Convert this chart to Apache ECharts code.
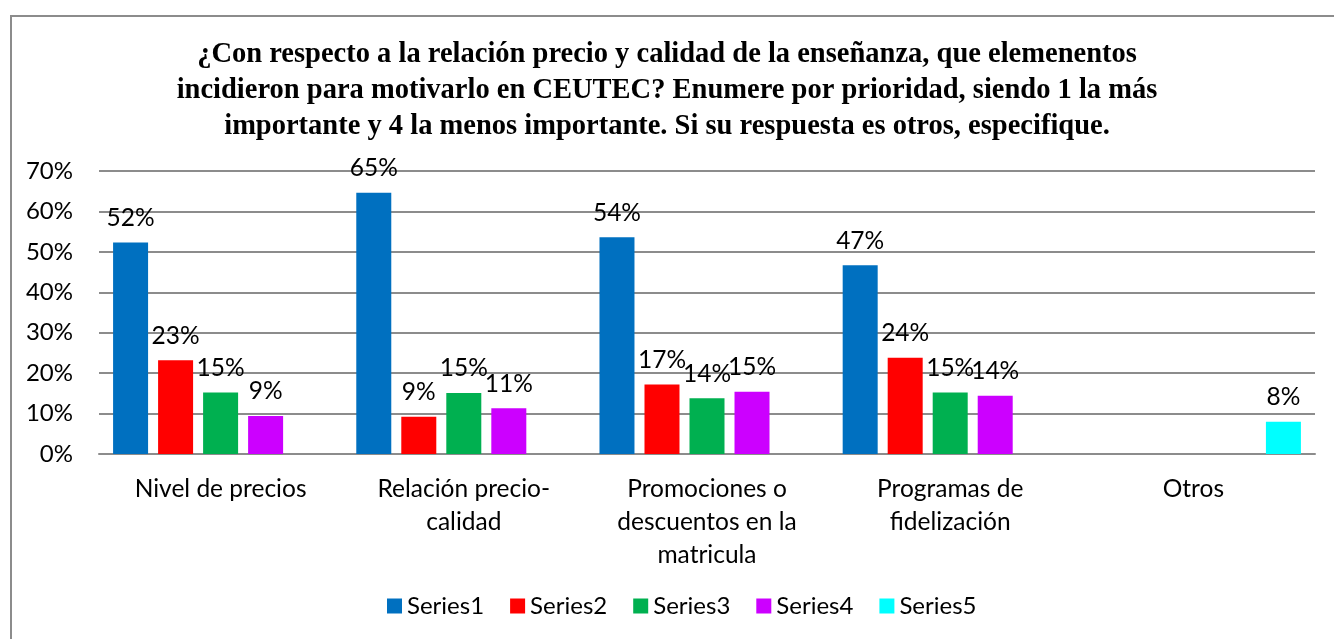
<!DOCTYPE html>
<html lang="es">
<head>
    <meta charset="UTF-8">
    <title>Precio y calidad - CEUTEC</title>
    <script src="https://cdn.jsdelivr.net/npm/echarts@6/dist/echarts.min.js"></script>
    <style>
        html, body { margin: 0; padding: 0; background: #fff; }
        #container { width: 1334px; height: 639px; }
    </style>
</head>
<body>
<div id="container"></div>
<script type="text/javascript">
    let categorias = ['Nivel de precios', 'Relación precio-\ncalidad', 'Promociones o\ndescuentos en la\nmatricula', 'Programas de\nfidelización', 'Otros'];
    let serie1 = [52.3, 64.6, 53.6, 46.7, null];
    let serie2 = [23.2, 9.2, 17.2, 23.8, null];
    let serie3 = [15.2, 15.1, 13.8, 15.2, null];
    let serie4 = [9.4, 11.3, 15.4, 14.4, null];
    let serie5 = [null, null, null, null, 8.0];
    let nombres = ['Series1', 'Series2', 'Series3', 'Series4', 'Series5'];
    let colores = ['#0070C0', '#FF0000', '#00B050', '#CC00FF', '#00FFFF'];
    let ticksY = [0, 10, 20, 30, 40, 50, 60, 70];

    let fuente = 'Lato, "Open Sans", sans-serif';
    let datos = [serie1, serie2, serie3, serie4, serie5];

    let dom = document.getElementById("container");
    let myChart = echarts.init(dom);

    let series = [];
    for (let i = 0; i < datos.length; i++) {
        series.push({
            name: nombres[i],
            type: 'bar',
            data: datos[i],
            barWidth: 35,
            barGap: '28.6%',
            itemStyle: { color: colores[i] },
            label: {
                show: true,
                position: 'top',
                distance: 12,
                color: '#000',
                fontFamily: fuente,
                fontSize: 24.5,
                formatter: function (p) { return Math.round(p.value) + '%'; }
            }
        });
    }

    let option = {
        backgroundColor: '#fff',
        animation: false,
        graphic: [{
            type: 'rect',
            shape: { x: 11, y: 16, width: 1400, height: 700 },
            style: { fill: 'none', stroke: '#8c8c8c', lineWidth: 2 },
            silent: true
        }],
        title: {
            text: '¿Con respecto a la relación precio y calidad de la enseñanza, que elemenentos\nincidieron para motivarlo en CEUTEC? Enumere por prioridad, siendo 1 la más\nimportante y 4 la menos importante. Si su respuesta es otros, especifique.',
            left: 'center',
            top: 32,
            textStyle: {
                fontFamily: '"Liberation Serif", "Times New Roman", serif',
                fontWeight: 'bold',
                fontSize: 28.5,
                lineHeight: 36,
                color: '#000'
            }
        },
        legend: {
            bottom: 16,
            left: 382,
            itemWidth: 15,
            itemHeight: 15,
            itemGap: 26,
            icon: 'rect',
            textStyle: { fontFamily: fuente, fontSize: 24, color: '#000' },
            data: nombres
        },
        grid: {
            left: 99,
            right: 19,
            top: 171,
            bottom: 185
        },
        xAxis: {
            type: 'category',
            data: categorias,
            axisTick: { show: false },
            axisLine: { lineStyle: { color: '#8c8c8c', width: 2 } },
            axisLabel: {
                interval: 0,
                margin: 19,
                fontFamily: fuente,
                fontSize: 24.5,
                lineHeight: 33,
                color: '#000'
            }
        },
        yAxis: {
            type: 'value',
            min: ticksY[0],
            max: ticksY[ticksY.length - 1],
            interval: 10,
            axisLine: { show: false },
            axisTick: { show: false },
            splitLine: { lineStyle: { color: '#8c8c8c', width: 2 } },
            axisLabel: {
                margin: 26,
                fontFamily: fuente,
                fontSize: 24,
                color: '#000',
                formatter: '{value}%'
            }
        },
        series: series
    };
    myChart.setOption(option);
</script>
</body>
</html>
